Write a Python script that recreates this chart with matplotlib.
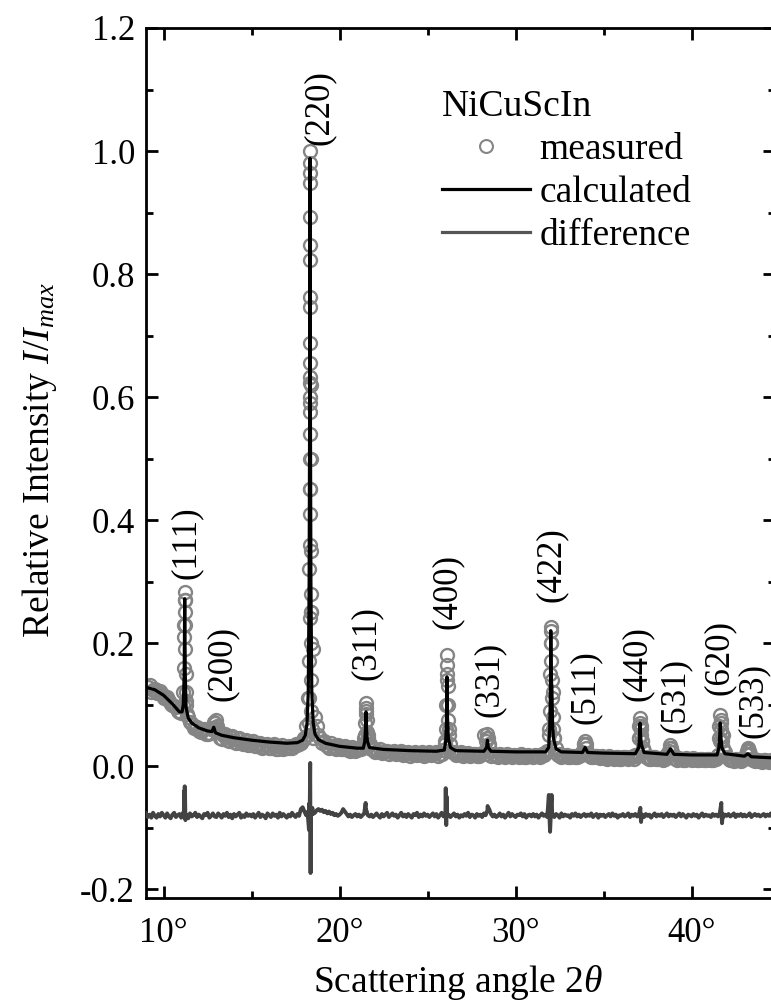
import numpy as np
import matplotlib
matplotlib.use("Agg")
import matplotlib.pyplot as plt
from matplotlib.ticker import MultipleLocator, FuncFormatter
from matplotlib.lines import Line2D

plt.rcParams['font.family'] = ['Liberation Serif', 'DejaVu Serif']
plt.rcParams['mathtext.fontset'] = 'custom'
plt.rcParams['mathtext.rm'] = 'Liberation Serif'
plt.rcParams['mathtext.it'] = 'Liberation Serif:italic'
plt.rcParams['axes.unicode_minus'] = False

# ---------------- data ----------------
sample_name = "NiCuScIn"
series_labels = ["measured", "calculated", "difference"]

# measured pattern: background band, two interleaved 0.2 deg grids (9.1, 9.3, ... and 9.2, 9.4, ...)
meas_grid_a_start = 9.1
meas_grid_b_start = 9.2
meas_grid_step = 0.2
meas_grid_a_y = [
    0.128, 0.121, 0.126, 0.118, 0.117, 0.110, 0.106, 0.100, 0.096, 0.088,
    0.100, 0.105, 0.072, 0.062, 0.064, 0.056, 0.060, 0.052, 0.060, 0.070,
    0.058, 0.044, 0.052, 0.041, 0.049, 0.038, 0.045, 0.036, 0.042, 0.034,
    0.041, 0.032, 0.038, 0.031, 0.036, 0.029, 0.035, 0.028, 0.034, 0.029,
    0.033, 0.029, 0.035, 0.036, 0.042, 0.065, 0.450, 0.190, 0.065, 0.045,
    0.040, 0.033, 0.037, 0.030, 0.034, 0.028, 0.032, 0.026, 0.031, 0.025,
    0.029, 0.033, 0.085, 0.035, 0.027, 0.024, 0.027, 0.023, 0.025, 0.022,
    0.025, 0.021, 0.024, 0.020, 0.023, 0.020, 0.022, 0.019, 0.022, 0.020,
    0.023, 0.019, 0.022, 0.020, 0.026, 0.150, 0.035, 0.023, 0.020, 0.022,
    0.018, 0.021, 0.018, 0.020, 0.017, 0.021, 0.040, 0.032, 0.019, 0.017,
    0.020, 0.016, 0.019, 0.016, 0.018, 0.016, 0.019, 0.015, 0.018, 0.016,
    0.018, 0.016, 0.019, 0.021, 0.060, 0.120, 0.030, 0.019, 0.016, 0.018,
    0.015, 0.017, 0.015, 0.018, 0.035, 0.020, 0.015, 0.017, 0.014, 0.016,
    0.013, 0.016, 0.013, 0.015, 0.012, 0.015, 0.013, 0.015, 0.012, 0.016,
    0.065, 0.025, 0.014, 0.012, 0.014, 0.011, 0.013, 0.012, 0.025, 0.022,
    0.012, 0.013, 0.010, 0.013, 0.011, 0.013, 0.010, 0.012, 0.010, 0.012,
    0.010, 0.012, 0.018, 0.070, 0.022, 0.011, 0.009, 0.011, 0.009, 0.011,
    0.020, 0.020, 0.009, 0.010, 0.008, 0.010, 0.008, 0.009, 0.007,
]
meas_grid_b_y = [
    0.131, 0.124, 0.119, 0.122, 0.111, 0.112, 0.101, 0.098, 0.090, 0.086,
    0.270, 0.080, 0.068, 0.064, 0.057, 0.059, 0.052, 0.054, 0.062, 0.062,
    0.046, 0.050, 0.043, 0.047, 0.039, 0.044, 0.037, 0.041, 0.034, 0.038,
    0.033, 0.036, 0.030, 0.034, 0.029, 0.032, 0.027, 0.031, 0.028, 0.030,
    0.029, 0.033, 0.034, 0.038, 0.046, 0.110, 0.250, 0.080, 0.050, 0.038,
    0.034, 0.030, 0.033, 0.028, 0.031, 0.027, 0.029, 0.025, 0.028, 0.026,
    0.028, 0.045, 0.050, 0.028, 0.022, 0.025, 0.021, 0.024, 0.020, 0.023,
    0.019, 0.022, 0.018, 0.021, 0.017, 0.021, 0.018, 0.020, 0.017, 0.021,
    0.018, 0.021, 0.017, 0.020, 0.035, 0.060, 0.022, 0.018, 0.021, 0.017,
    0.020, 0.016, 0.019, 0.016, 0.020, 0.050, 0.020, 0.016, 0.019, 0.015,
    0.018, 0.014, 0.018, 0.015, 0.017, 0.014, 0.018, 0.015, 0.017, 0.014,
    0.017, 0.015, 0.018, 0.025, 0.220, 0.045, 0.018, 0.015, 0.017, 0.014,
    0.016, 0.014, 0.017, 0.022, 0.030, 0.016, 0.014, 0.016, 0.013, 0.015,
    0.012, 0.015, 0.012, 0.014, 0.011, 0.014, 0.012, 0.014, 0.018, 0.045,
    0.040, 0.015, 0.011, 0.014, 0.011, 0.013, 0.010, 0.020, 0.030, 0.013,
    0.010, 0.012, 0.009, 0.012, 0.010, 0.012, 0.009, 0.011, 0.009, 0.011,
    0.009, 0.012, 0.040, 0.050, 0.014, 0.010, 0.008, 0.010, 0.008, 0.012,
    0.028, 0.012, 0.008, 0.010, 0.007, 0.009, 0.007, 0.009,
]
# measured points on the Bragg peaks
meas_peak_x = [
    11.12, 11.15, 11.17, 11.18, 11.19, 11.20, 11.22, 11.23, 11.24, 11.25, 11.27, 11.30, 11.35,
    12.85, 12.95, 13.05,
    18.32, 18.33, 18.31, 18.33, 18.31, 18.33, 18.32, 18.31, 18.33, 18.32, 18.31, 18.34, 18.33,
    18.32, 18.34, 18.31, 18.33, 18.31, 18.34, 18.30, 18.33, 18.29, 18.35, 18.30, 18.36, 18.28,
    18.37, 18.27, 18.40, 18.25, 18.45, 18.20, 18.50, 18.37, 18.37, 18.37, 18.37,
    21.42, 21.45, 21.48, 21.50, 21.52, 21.55, 21.58, 21.62,
    26.00, 26.03, 26.06, 26.08, 26.10, 26.12, 26.14, 26.16, 26.18, 26.22,
    28.35, 28.40, 28.45, 28.50,
    31.90, 31.94, 31.97, 31.99, 32.00, 32.02, 32.04, 32.06, 32.08, 32.10, 32.13, 32.17,
    33.90, 33.95, 34.00,
    37.00, 37.03, 37.05, 37.08, 37.10, 37.13, 37.17, 37.22,
    38.75, 38.80, 38.85,
    41.55, 41.58, 41.62, 41.65, 41.68, 41.71, 41.75, 41.80,
    43.15, 43.20, 43.25,
]
meas_peak_y = [
    0.120, 0.160, 0.210, 0.230, 0.250, 0.283, 0.270, 0.230, 0.190, 0.150, 0.120, 0.100, 0.085,
    0.072, 0.075, 0.065,
    1.000, 0.980, 0.964, 0.948, 0.893, 0.847, 0.823, 0.763, 0.746, 0.688, 0.655, 0.633, 0.623,
    0.600, 0.590, 0.576, 0.540, 0.500, 0.450, 0.410, 0.360, 0.320, 0.280, 0.240, 0.200, 0.170,
    0.140, 0.110, 0.090, 0.070, 0.060, 0.050, 0.045, 0.620, 0.500, 0.350, 0.250,
    0.050, 0.070, 0.090, 0.102, 0.095, 0.075, 0.055, 0.045,
    0.040, 0.060, 0.100, 0.140, 0.180, 0.165, 0.130, 0.100, 0.075, 0.050,
    0.045, 0.052, 0.045, 0.035,
    0.050, 0.090, 0.150, 0.200, 0.226, 0.200, 0.170, 0.140, 0.110, 0.080, 0.060, 0.045,
    0.035, 0.040, 0.035,
    0.045, 0.065, 0.078, 0.070, 0.060, 0.050, 0.040, 0.030,
    0.030, 0.034, 0.030,
    0.045, 0.065, 0.083, 0.075, 0.060, 0.050, 0.040, 0.030,
    0.025, 0.029, 0.025,
]

# calculated profile
calc_x = [
    9.0, 9.5, 10.0, 10.5, 10.9, 11.05, 11.12, 11.17, 11.2, 11.23, 11.28, 11.4, 11.6,
    12.0, 12.5, 12.75, 12.85, 12.95, 13.3, 14.0, 15.0, 16.0, 17.0, 17.6, 17.9,
    18.05, 18.15, 18.22, 18.27, 18.3, 18.32, 18.34, 18.37, 18.42, 18.5, 18.6, 18.8, 19.2,
    20.0, 21.0, 21.35, 21.43, 21.47, 21.5, 21.53, 21.58, 21.7, 22.5, 24.0, 25.5,
    25.95, 26.03, 26.07, 26.1, 26.13, 26.18, 26.3, 26.6, 28.2, 28.35, 28.4, 28.45, 28.6,
    30.0, 31.7, 31.88, 31.94, 31.98, 32.0, 32.03, 32.06, 32.1, 32.15, 32.3, 32.6,
    33.8, 33.95, 34.1, 35.0, 36.8, 37.0, 37.04, 37.07, 37.1, 37.15, 37.3,
    38.6, 38.8, 39.0, 40.0, 41.45, 41.55, 41.6, 41.63, 41.66, 41.72, 41.9,
    43.0, 43.2, 43.4, 44.8,
]
calc_y = [
    0.128, 0.124, 0.115, 0.101, 0.088, 0.088, 0.100, 0.150, 0.272, 0.150, 0.095, 0.078, 0.070,
    0.062, 0.057, 0.056, 0.063, 0.054, 0.050, 0.046, 0.042, 0.039, 0.037, 0.038, 0.042,
    0.050, 0.070, 0.120, 0.300, 0.600, 0.988, 0.600, 0.300, 0.120, 0.070, 0.052, 0.043, 0.037,
    0.032, 0.029, 0.029, 0.040, 0.060, 0.088, 0.060, 0.040, 0.030, 0.027, 0.025, 0.024,
    0.026, 0.040, 0.070, 0.145, 0.080, 0.045, 0.030, 0.025, 0.024, 0.030, 0.042, 0.030, 0.024,
    0.023, 0.023, 0.030, 0.060, 0.120, 0.220, 0.140, 0.130, 0.070, 0.045, 0.028, 0.023,
    0.022, 0.030, 0.022, 0.021, 0.020, 0.030, 0.045, 0.070, 0.050, 0.035, 0.022,
    0.019, 0.028, 0.019, 0.018, 0.018, 0.030, 0.050, 0.070, 0.050, 0.030, 0.020,
    0.016, 0.020, 0.015, 0.013,
]

# difference curve: noisy base on a 0.1 deg grid starting at 9.0, plus spikes at the peaks
diff_grid_start = 9.0
diff_grid_step = 0.1
diff_grid_y = [
    -0.077, -0.083, -0.079, -0.084, -0.076, -0.081, -0.084, -0.078, -0.082, -0.076,
    -0.080, -0.084, -0.077, -0.082, -0.085, -0.079, -0.076, -0.083, -0.080, -0.078,
    -0.084, -0.076, -0.081, -0.079, -0.085, -0.077, -0.082, -0.080, -0.076, -0.083,
    -0.079, -0.082, -0.085, -0.078, -0.080, -0.076, -0.084, -0.081, -0.077, -0.082,
    -0.083, -0.077, -0.080, -0.084, -0.078, -0.081, -0.076, -0.083, -0.079, -0.085,
    -0.078, -0.082, -0.079, -0.076, -0.084, -0.080, -0.083, -0.077, -0.081, -0.079,
    -0.082, -0.078, -0.084, -0.080, -0.076, -0.083, -0.079, -0.081, -0.085, -0.077,
    -0.080, -0.083, -0.077, -0.081, -0.079, -0.084, -0.076, -0.082, -0.078, -0.081,
    -0.084, -0.079, -0.082, -0.076, -0.080, -0.083, -0.078, -0.081, -0.070, -0.067,
    -0.074, -0.080, -0.082, -0.078, -0.080, -0.078, -0.076, -0.072, -0.070, -0.073,
    -0.071, -0.075, -0.073, -0.077, -0.074, -0.078, -0.076, -0.080, -0.078, -0.081,
    -0.079, -0.076, -0.070, -0.074, -0.078, -0.082, -0.079, -0.083, -0.080, -0.078,
    -0.082, -0.079, -0.083, -0.080, -0.077, -0.075, -0.080, -0.082, -0.079, -0.083,
    -0.080, -0.077, -0.081, -0.084, -0.078, -0.082, -0.079, -0.076, -0.083, -0.080,
    -0.077, -0.081, -0.079, -0.084, -0.080, -0.076, -0.082, -0.079, -0.083, -0.078,
    -0.081, -0.084, -0.078, -0.080, -0.076, -0.083, -0.079, -0.082, -0.077, -0.081,
    -0.079, -0.083, -0.080, -0.077, -0.082, -0.078, -0.084, -0.080, -0.076, -0.082,
    -0.078, -0.081, -0.079, -0.083, -0.080, -0.077, -0.082, -0.079, -0.084, -0.080,
    -0.082, -0.078, -0.081, -0.076, -0.083, -0.079, -0.080, -0.084, -0.078, -0.081,
    -0.079, -0.083, -0.077, -0.080, -0.072, -0.070, -0.078, -0.082, -0.079, -0.083,
    -0.081, -0.077, -0.082, -0.079, -0.084, -0.080, -0.076, -0.082, -0.078, -0.081,
    -0.083, -0.079, -0.080, -0.077, -0.082, -0.078, -0.084, -0.080, -0.079, -0.082,
    -0.078, -0.082, -0.079, -0.084, -0.080, -0.077, -0.081, -0.079, -0.083, -0.080,
    -0.081, -0.079, -0.083, -0.078, -0.080, -0.084, -0.077, -0.082, -0.079, -0.081,
    -0.080, -0.084, -0.078, -0.081, -0.077, -0.082, -0.079, -0.083, -0.080, -0.078,
    -0.082, -0.079, -0.081, -0.077, -0.083, -0.080, -0.078, -0.084, -0.079, -0.081,
    -0.079, -0.083, -0.080, -0.078, -0.082, -0.077, -0.081, -0.079, -0.084, -0.080,
    -0.081, -0.078, -0.082, -0.080, -0.077, -0.083, -0.079, -0.081, -0.078, -0.082,
    -0.080, -0.082, -0.079, -0.083, -0.078, -0.081, -0.079, -0.084, -0.080, -0.077,
    -0.082, -0.079, -0.081, -0.078, -0.083, -0.080, -0.077, -0.082, -0.079, -0.081,
    -0.079, -0.083, -0.080, -0.077, -0.082, -0.078, -0.081, -0.084, -0.079, -0.080,
    -0.082, -0.078, -0.081, -0.079, -0.084, -0.080, -0.077, -0.082, -0.079, -0.081,
    -0.080, -0.083, -0.078, -0.081, -0.079, -0.082, -0.077, -0.080, -0.083, -0.079,
    -0.081, -0.078, -0.082, -0.080, -0.077, -0.083, -0.079, -0.081, -0.078, -0.082,
    -0.079, -0.082, -0.080, -0.077, -0.083, -0.080, -0.078, -0.081, -0.079, -0.082,
    -0.080, -0.078, -0.082, -0.079, -0.081, -0.077, -0.083, -0.080, -0.079,
]
diff_spike_x = [
    11.16, 11.18, 11.20, 11.22, 11.24, 11.26,
    18.10, 18.22, 18.26, 18.29, 18.31, 18.33, 18.35, 18.36, 18.38, 18.45, 18.55,
    21.48, 21.52,
    26.01, 26.03, 26.06, 26.09, 26.12,
    28.41, 28.45,
    31.89, 31.92, 31.96, 32.02, 32.05, 32.08,
    37.09, 37.13, 37.17,
    41.69, 41.73, 41.77,
]
diff_spike_y = [
    -0.080, -0.040, -0.033, -0.050, -0.088, -0.080,
    -0.075, -0.090, -0.104, -0.060, -0.044, 0.005, -0.174, -0.100, -0.070, -0.068, -0.076,
    -0.060, -0.072,
    -0.080, -0.036, -0.096, -0.050, -0.080,
    -0.065, -0.068,
    -0.047, -0.080, -0.107, -0.060, -0.047, -0.080,
    -0.068, -0.091, -0.080,
    -0.060, -0.093, -0.078,
]

# reflection labels
hkl_labels = ["(111)", "(200)", "(220)", "(311)", "(400)", "(331)",
              "(422)", "(511)", "(440)", "(531)", "(620)", "(533)"]
hkl_label_x = [11.31, 13.35, 18.86, 21.53, 26.14, 28.52, 32.05, 33.98, 36.93, 39.09, 41.59, 43.52]
hkl_label_y = [0.363, 0.166, 1.070, 0.200, 0.283, 0.141, 0.327, 0.128, 0.166, 0.114, 0.176, 0.107]

# ---------------- assemble ----------------
meas_grid_a_x = meas_grid_a_start + meas_grid_step * np.arange(len(meas_grid_a_y))
meas_grid_b_x = meas_grid_b_start + meas_grid_step * np.arange(len(meas_grid_b_y))
meas_x = np.concatenate([meas_grid_a_x, meas_grid_b_x, meas_peak_x])
meas_y = np.concatenate([meas_grid_a_y, meas_grid_b_y, meas_peak_y])

diff_grid_x = diff_grid_start + diff_grid_step * np.arange(len(diff_grid_y))
dx = np.concatenate([diff_grid_x, diff_spike_x])
dy = np.concatenate([diff_grid_y, diff_spike_y])
order = np.argsort(dx, kind="stable")
dx, dy = dx[order], dy[order]

# ---------------- figure ----------------
W, H = 771, 1002
fig = plt.figure(figsize=(W / 100, H / 100), dpi=100)
ax = fig.add_axes([146 / W, (H - 898) / H, 629 / W, 870 / H])

meas_color = "#858585"
diff_color = "#434343"

ax.plot(meas_x, meas_y, linestyle="none", marker="o", markersize=9.3,
        markerfacecolor="none", markeredgecolor=meas_color, markeredgewidth=1.7, zorder=2)
ax.plot(calc_x, calc_y, color="black", linewidth=2.3, zorder=3)
ax.plot(dx, dy, color=diff_color, linewidth=2.8, zorder=3)

for lab, lx, ly in zip(hkl_labels, hkl_label_x, hkl_label_y):
    ax.text(lx, ly, lab, rotation=90, ha="center", va="center", fontsize=25)

ax.set_xlim(9.0, 44.74)
ax.set_ylim(-0.2146, 1.2)

ax.xaxis.set_major_locator(MultipleLocator(10))
ax.xaxis.set_minor_locator(MultipleLocator(5))
ax.yaxis.set_major_locator(MultipleLocator(0.2))
ax.yaxis.set_minor_locator(MultipleLocator(0.1))
ax.xaxis.set_major_formatter(FuncFormatter(lambda v, p: f"{v:.0f}°"))
ax.yaxis.set_major_formatter(FuncFormatter(lambda v, p: f"{v:.1f}"))

ax.tick_params(which="both", direction="in", top=True, right=True, width=2.0, labelsize=25)
ax.tick_params(which="major", length=8.5)
ax.tick_params(which="minor", length=5.0)
ax.tick_params(axis="x", pad=13.5)
ax.tick_params(axis="y", pad=8)
for sp in ax.spines.values():
    sp.set_linewidth(2.0)

ax.set_xlabel(r"Scattering angle 2$\theta$", fontsize=27)
ax.xaxis.set_label_coords(0.496, -0.075)
ax.set_ylabel(r"Relative Intensity $I/I_{max}$", fontsize=27)
ax.yaxis.set_label_coords(-0.138, 0.503)

handles = [
    Line2D([], [], linestyle="none", marker="o", markersize=9.3, markerfacecolor="none",
           markeredgecolor=meas_color, markeredgewidth=1.5),
    Line2D([], [], color="black", linewidth=2.3),
    Line2D([], [], color="#555555", linewidth=2.3),
]
leg = ax.legend(handles, series_labels, title=sample_name, loc="upper left",
                bbox_to_anchor=(0.47, 0.9295), frameon=False, fontsize=27,
                title_fontsize=27, handlelength=2.35, handletextpad=0.25,
                labelspacing=0.23, borderaxespad=0, borderpad=0, alignment="left")

fig.savefig("out.png", dpi=100)
